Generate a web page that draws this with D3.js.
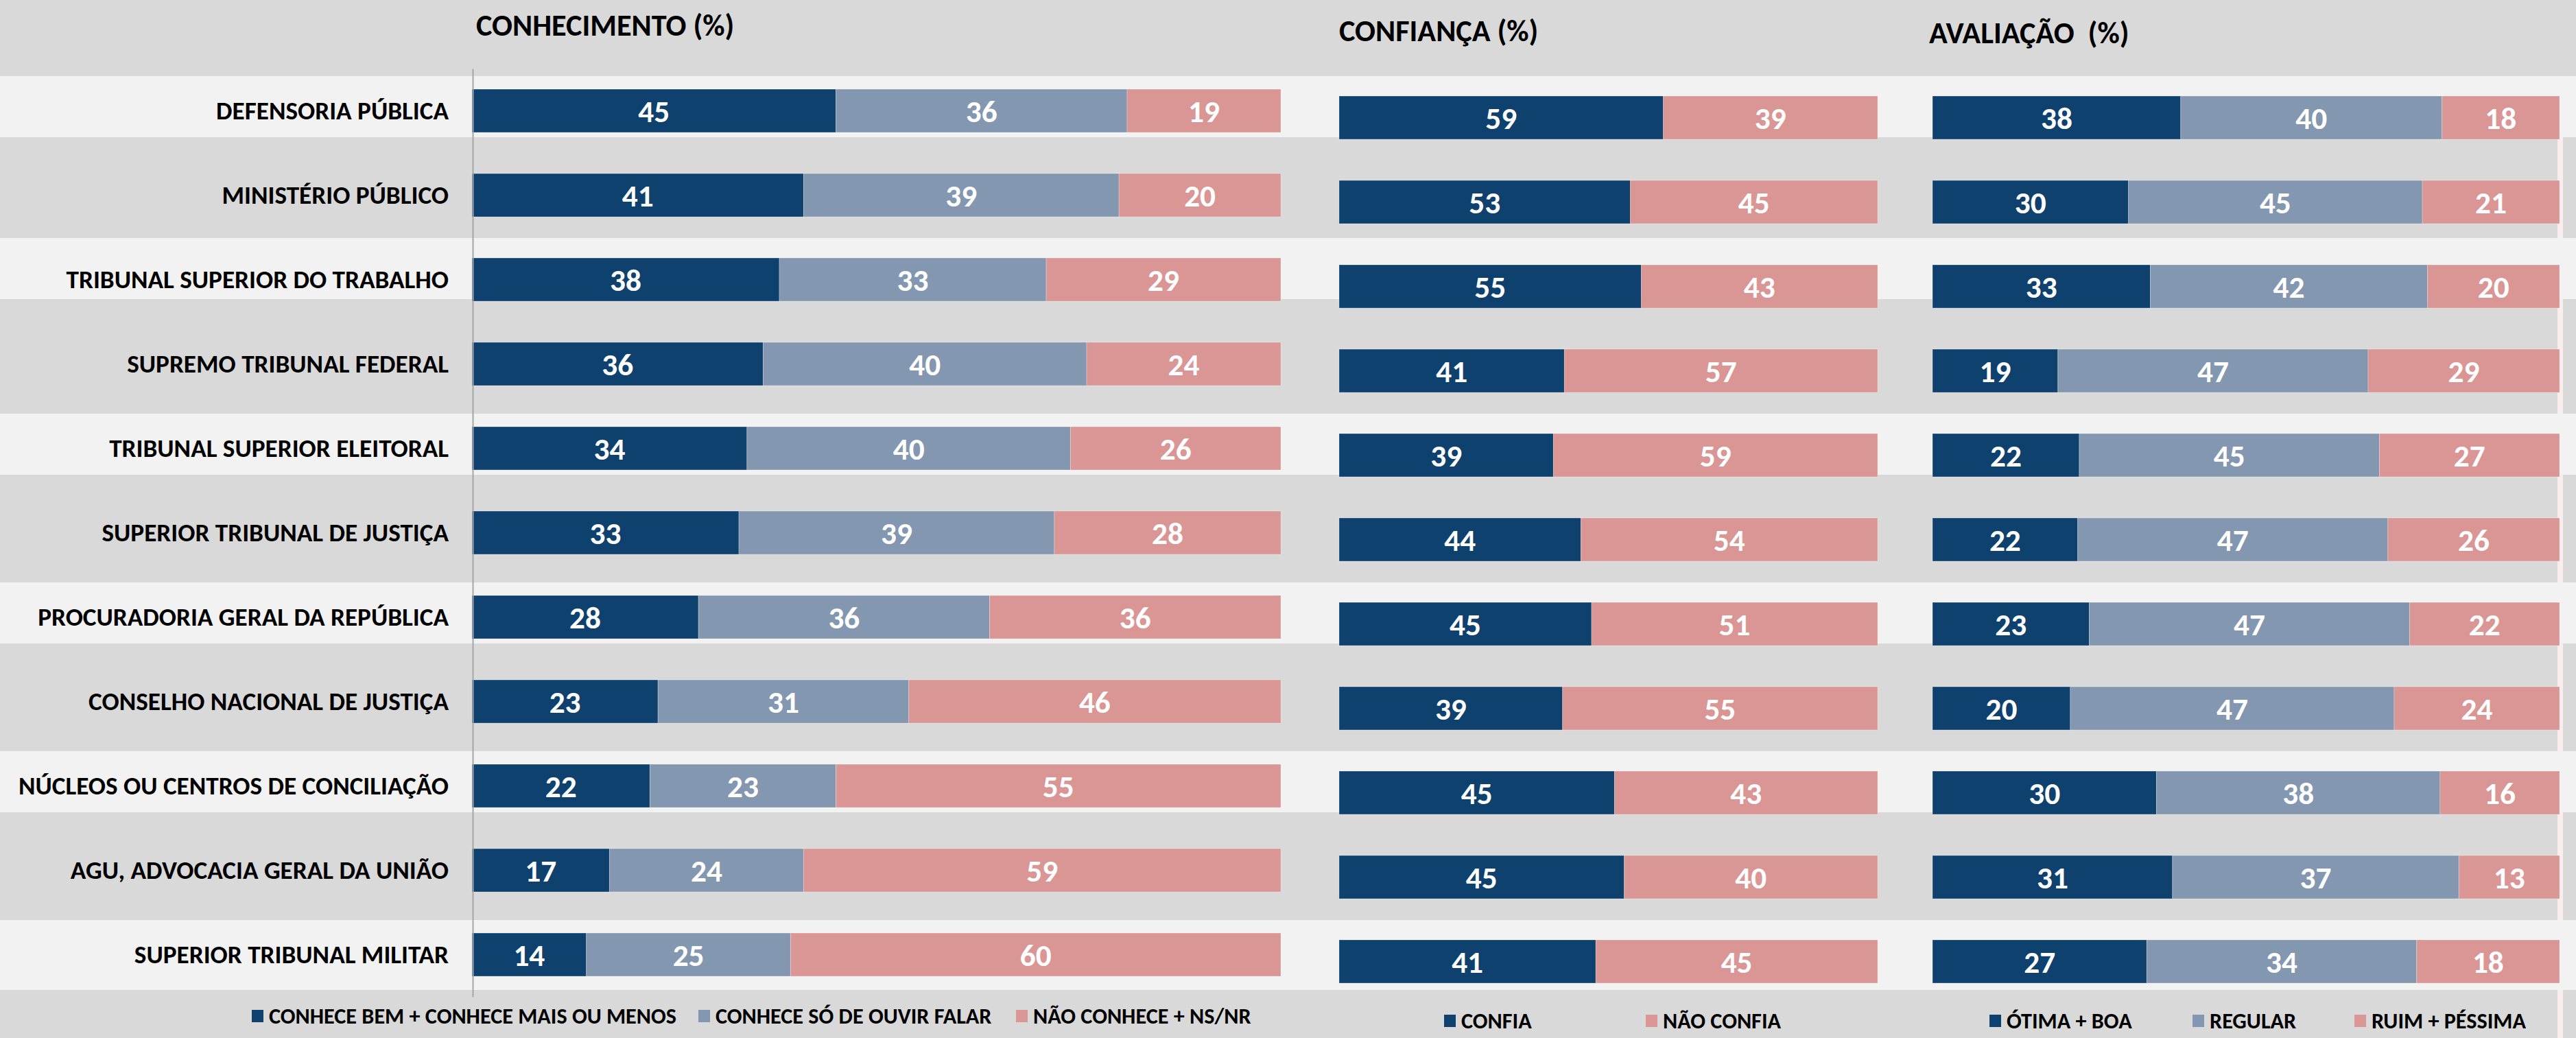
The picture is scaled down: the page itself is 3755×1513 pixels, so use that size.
<!DOCTYPE html>
<html>
<head>
<meta charset="utf-8">
<script src="https://cdn.jsdelivr.net/npm/d3@7"></script>
<style>
  html, body { margin: 0; padding: 0; background: #D9D9D9; }
  svg { display: block; }
  text { white-space: pre; }
</style>
</head>
<body>
<svg id="chart" width="3755" height="1513"></svg>
<script>
// ---------------- DATA ----------------
const categories = [
  "DEFENSORIA PÚBLICA",
  "MINISTÉRIO PÚBLICO",
  "TRIBUNAL SUPERIOR DO TRABALHO",
  "SUPREMO TRIBUNAL FEDERAL",
  "TRIBUNAL SUPERIOR ELEITORAL",
  "SUPERIOR TRIBUNAL DE JUSTIÇA",
  "PROCURADORIA GERAL DA REPÚBLICA",
  "CONSELHO NACIONAL DE JUSTIÇA",
  "NÚCLEOS OU CENTROS DE CONCILIAÇÃO",
  "AGU, ADVOCACIA GERAL DA UNIÃO",
  "SUPERIOR TRIBUNAL MILITAR"
];
const conheceBem   = [45, 41, 38, 36, 34, 33, 28, 23, 22, 17, 14];
const conheceOuvir = [36, 39, 33, 40, 40, 39, 36, 31, 23, 24, 25];
const naoConhece   = [19, 20, 29, 24, 26, 28, 36, 46, 55, 59, 60];
const confia       = [59, 53, 55, 41, 39, 44, 45, 39, 45, 45, 41];
const naoConfia    = [39, 45, 43, 57, 59, 54, 51, 55, 43, 40, 45];
const otimaBoa     = [38, 30, 33, 19, 22, 22, 23, 20, 30, 31, 27];
const regular      = [40, 45, 42, 47, 45, 47, 47, 47, 38, 37, 34];
const ruimPessima  = [18, 21, 20, 29, 27, 26, 22, 24, 16, 13, 18];

const conhecimentoSeries = ["CONHECE BEM + CONHECE MAIS OU MENOS", "CONHECE SÓ DE OUVIR FALAR", "NÃO CONHECE + NS/NR"];
const confiancaSeries    = ["CONFIA", "NÃO CONFIA"];
const avaliacaoSeries    = ["ÓTIMA + BOA", "REGULAR", "RUIM + PÉSSIMA"];
const panelTitles        = ["CONHECIMENTO (%)", "CONFIANÇA (%)", "AVALIAÇÃO  (%)"];

// ---------------- STYLE / LAYOUT ----------------
const NAVY = "#0F416F", STEEL = "#8497B0", ROSE = "#DA9694";
const BG = "#D9D9D9", LIGHT = "#F2F2F2";
const W = 3755, H = 1513;

// font selection + horizontal calibration (Calibri-like look)
function fontAvailable(name) {
  const c = document.createElement("canvas").getContext("2d");
  const s = "DEFENSORIA PÚBLICA 0123456789 Wmx";
  return ["monospace", "serif"].some(base => {
    c.font = `bold 40px ${base}`; const w0 = c.measureText(s).width;
    c.font = `bold 40px "${name}", ${base}`; const w1 = c.measureText(s).width;
    return Math.abs(w0 - w1) > 0.5;
  });
}
const candidates = [["Carlito", 1.0], ["Liberation Sans Narrow", 0.93], ["DejaVu Sans Condensed", 0.9], ["Lato", 0.93], ["Open Sans", 0.9]];
let FONT = "Lato", K = 0.93;
for (const [f, k] of candidates) { if (fontAvailable(f)) { FONT = f; K = k; break; } }
const FAMILY = `"${FONT}", Lato, sans-serif`;
const ctx = document.createElement("canvas").getContext("2d");
ctx.font = `bold ${37 * K}px ${FAMILY}`;
let SX = 339 / ctx.measureText("DEFENSORIA PÚBLICA").width;
SX = Math.max(0.6, Math.min(1.15, SX));

const FS = { title: 44 * K, label: 37 * K, value: 45 * K, legend: 32 * K };

const svg = d3.select("#chart").attr("font-family", FAMILY).attr("font-weight", "bold");

// Scales
const yConh = d3.scaleBand().domain(categories).range([100, 1453]).paddingInner(60 / 123).paddingOuter(30 / 123);
const yOther = d3.scaleBand().domain(categories).range([110, 1463]).paddingInner(60 / 123).paddingOuter(30 / 123);
const xConh = d3.scaleLinear().domain([0, 1]).range([688, 1867]);
const xConf = d3.scaleLinear().domain([0, 1]).range([1952, 2737]);
const xAval = d3.scaleLinear().domain([0, 1]).range([2817, 3731]);

// ---------------- BACKGROUND ----------------
svg.append("rect").attr("width", W).attr("height", H).attr("fill", BG);
const bw = yConh.bandwidth();
const stripes = categories.filter((d, i) => i % 2 === 0).map((c, j, arr) => {
  const top = yConh(c) - (j === 1 ? 29 : 19);
  const bottom = yConh(c) + bw + (j === arr.length - 1 ? 20 : (j === 1 ? -3 : 7));
  return [top, bottom];
});
// thin light separator at the right edge (visible inside the gray rows)
svg.append("rect").attr("x", 3728).attr("width", 8)
  .attr("y", stripes[0][1]).attr("height", H - stripes[0][1]).attr("fill", "#F9EDED");
svg.append("g").selectAll("rect").data(stripes).join("rect")
  .attr("x", 0).attr("width", W)
  .attr("y", d => d[0]).attr("height", d => d[1] - d[0])
  .attr("fill", LIGHT);

// ---------------- TEXT helper ----------------
function addText(g, x, y, str, size, anchor, fill) {
  return g.append("text")
    .attr("transform", `translate(${x},${y}) scale(${SX},1)`)
    .attr("text-anchor", anchor || "start")
    .attr("font-size", size)
    .attr("fill", fill || "#000")
    .text(str);
}

// ---------------- PANELS ----------------
function drawPanel(seriesArrays, keys, colors, x, y) {
  const rows = categories.map((c, i) => {
    const r = { cat: c };
    keys.forEach((k, j) => r[k] = seriesArrays[j][i]);
    return r;
  });
  const stacked = d3.stack().keys(keys).offset(d3.stackOffsetExpand)(rows);
  const g = svg.append("g");
  const layers = g.selectAll("g.layer").data(stacked).join("g").attr("class", "layer")
    .attr("fill", (d, i) => colors[i]);
  layers.selectAll("rect").data(d => d).join("rect")
    .attr("x", d => x(d[0]))
    .attr("width", d => x(d[1]) - x(d[0]))
    .attr("y", d => y(d.data.cat))
    .attr("height", y.bandwidth())
    .attr("stroke", "rgba(255,255,255,0.28)")
    .attr("stroke-width", 1);
  stacked.forEach(layer => {
    layer.forEach(d => {
      const cx = (x(d[0]) + x(d[1])) / 2;
      const cy = y(d.data.cat) + y.bandwidth() / 2;
      addText(g, cx, cy + FS.value * 0.36, String(d.data[layer.key]), FS.value, "middle", "#fff");
    });
  });
}

drawPanel([conheceBem, conheceOuvir, naoConhece], conhecimentoSeries, [NAVY, STEEL, ROSE], xConh, yConh);
drawPanel([confia, naoConfia], confiancaSeries, [NAVY, ROSE], xConf, yOther);
drawPanel([otimaBoa, regular, ruimPessima], avaliacaoSeries, [NAVY, STEEL, ROSE], xAval, yOther);

// ---------------- CATEGORY AXIS ----------------
const axisG = svg.append("g").attr("transform", "translate(689,0)")
  .call(d3.axisLeft(yConh).tickSize(0).tickPadding(35));
axisG.select(".domain").attr("stroke", "#A6A6A6").attr("stroke-width", 2);
axisG.selectAll(".tick text")
  .attr("font-family", FAMILY).attr("font-weight", "bold")
  .attr("font-size", FS.label).attr("fill", "#000")
  .attr("dy", null)
  .attr("x", null)
  .attr("transform", `translate(-35,${FS.label * 0.345}) scale(${SX},1)`);

// ---------------- TITLES ----------------
const tg = svg.append("g");
addText(tg, 694, 52, panelTitles[0], FS.title);
addText(tg, 1952, 60, panelTitles[1], FS.title);
addText(tg, 2812, 63, panelTitles[2], FS.title);

// ---------------- LEGENDS ----------------
function legend(keys, colors, xs, cy) {
  const lg = svg.append("g");
  keys.forEach((k, i) => {
    lg.append("rect").attr("x", xs[i]).attr("y", cy - 9).attr("width", 17).attr("height", 18).attr("fill", colors[i]);
    addText(lg, xs[i] + 25, cy + FS.legend * 0.33, k, FS.legend);
  });
}
legend(conhecimentoSeries, [NAVY, STEEL, ROSE], [367, 1018, 1481], 1481);
legend(confiancaSeries, [NAVY, ROSE], [2105, 2399], 1488);
legend(avaliacaoSeries, [NAVY, STEEL, ROSE], [2900, 3196, 3432], 1488);
</script>
</body>
</html>
